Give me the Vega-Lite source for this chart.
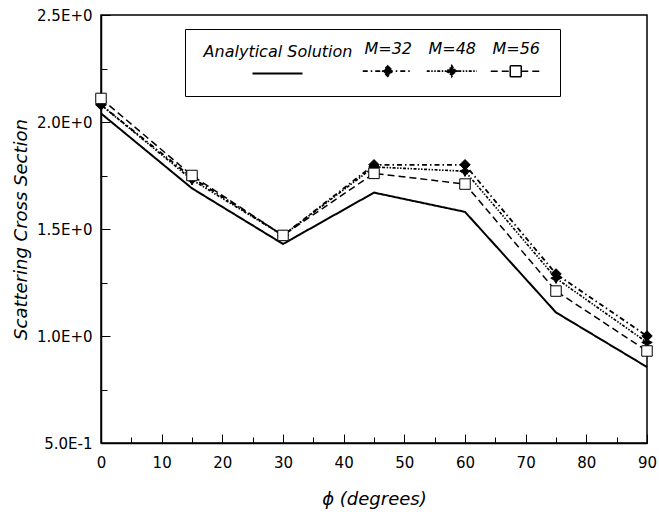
{
  "$schema": "https://vega.github.io/schema/vega-lite/v6.json",
  "width": 546,
  "height": 428,
  "autosize": {"type": "none"},
  "padding": {"left": 101, "top": 15, "right": 12, "bottom": 69},
  "background": "white",
  "data": {
    "values": [
      {"phi": 0, "value": 2.04, "series": "Analytical Solution"},
      {"phi": 15, "value": 1.69, "series": "Analytical Solution"},
      {"phi": 30, "value": 1.43, "series": "Analytical Solution"},
      {"phi": 45, "value": 1.67, "series": "Analytical Solution"},
      {"phi": 60, "value": 1.58, "series": "Analytical Solution"},
      {"phi": 75, "value": 1.11, "series": "Analytical Solution"},
      {"phi": 90, "value": 0.855, "series": "Analytical Solution"},
      {"phi": 0, "value": 2.08, "series": "M=32"},
      {"phi": 15, "value": 1.74, "series": "M=32"},
      {"phi": 30, "value": 1.47, "series": "M=32"},
      {"phi": 45, "value": 1.80, "series": "M=32"},
      {"phi": 60, "value": 1.80, "series": "M=32"},
      {"phi": 75, "value": 1.29, "series": "M=32"},
      {"phi": 90, "value": 1.00, "series": "M=32"},
      {"phi": 0, "value": 2.08, "series": "M=48"},
      {"phi": 15, "value": 1.73, "series": "M=48"},
      {"phi": 30, "value": 1.47, "series": "M=48"},
      {"phi": 45, "value": 1.79, "series": "M=48"},
      {"phi": 60, "value": 1.77, "series": "M=48"},
      {"phi": 75, "value": 1.27, "series": "M=48"},
      {"phi": 90, "value": 0.97, "series": "M=48"},
      {"phi": 0, "value": 2.11, "series": "M=56"},
      {"phi": 15, "value": 1.75, "series": "M=56"},
      {"phi": 30, "value": 1.47, "series": "M=56"},
      {"phi": 45, "value": 1.76, "series": "M=56"},
      {"phi": 60, "value": 1.71, "series": "M=56"},
      {"phi": 75, "value": 1.21, "series": "M=56"},
      {"phi": 90, "value": 0.93, "series": "M=56"}
    ]
  },
  "config": {
    "view": {"stroke": "black", "strokeWidth": 1.5},
    "font": "DejaVu Sans",
    "axis": {
      "grid": false,
      "domainColor": "black",
      "domainWidth": 1.5,
      "tickColor": "black",
      "tickWidth": 1,
      "labelColor": "black",
      "labelFont": "DejaVu Sans",
      "labelFontSize": 15,
      "titleColor": "black",
      "titleFont": "DejaVu Sans",
      "titleFontSize": 18,
      "titleFontStyle": "italic",
      "titleFontWeight": "normal"
    }
  },
  "resolve": {"axis": {"x": "independent", "y": "independent"}},
  "layer": [
    {
      "mark": {"type": "line", "color": "black"},
      "encoding": {
        "x": {
          "field": "phi",
          "type": "quantitative",
          "scale": {"domain": [0, 90], "nice": false},
          "axis": {
            "orient": "bottom",
            "title": null,
            "labels": false,
            "domain": false,
            "values": [5, 15, 25, 35, 45, 55, 65, 75, 85],
            "tickSize": -6
          }
        },
        "y": {
          "field": "value",
          "type": "quantitative",
          "scale": {"domain": [0.5, 2.5], "nice": false, "zero": false},
          "axis": {
            "orient": "left",
            "title": null,
            "labels": false,
            "domain": false,
            "values": [0.75, 1.25, 1.75, 2.25],
            "tickSize": -6
          }
        },
        "strokeDash": {
          "field": "series",
          "type": "nominal",
          "scale": {
            "domain": ["Analytical Solution", "M=32", "M=48", "M=56"],
            "range": [[1, 0], [5, 3, 1.5, 3], [3, 1.5, 1.5, 1.5, 1.5, 1.5], [7, 4]]
          },
          "legend": {
            "title": null,
            "orient": "none",
            "legendX": 84,
            "legendY": 14,
            "direction": "horizontal",
            "columns": 4,
            "columnPadding": 6,
            "padding": 16,
            "strokeColor": "black",
            "fillColor": "white",
            "symbolSize": 2500,
            "symbolStrokeWidth": 1.5,
            "symbolStrokeColor": "black",
            "labelFont": "DejaVu Sans",
            "labelFontStyle": "italic",
            "labelFontSize": 16,
            "labelColor": "black",
            "labelAlign": "center",
            "labelOffset": -25.75,
            "labelLimit": 300,
            "encode": {
              "symbols": {
                "update": {
                  "shape": {"signal": "datum.value == 'M=32' ? 'M-1,0H1M0,-0.2L0.2,0L0,0.2L-0.2,0Z' : datum.value == 'M=48' ? 'M-1,0H1M0,-0.22L0.08,-0.08L0.22,0L0.08,0.08L0,0.22L-0.08,0.08L-0.22,0L-0.08,-0.08Z' : datum.value == 'M=56' ? 'M-1,0H-0.22M0.22,0H1M-0.22,-0.22H0M0,-0.22H0.22M0.22,-0.22V0M0.22,0V0.22M0.22,0.22H0M0,0.22H-0.22M-0.22,0.22V0M-0.22,0V-0.22' : 'M-1,0H1'"},
                  "fill": {"signal": "datum.value == 'M=56' ? 'transparent' : 'black'"},
                  "stroke": {"value": "black"},
                  "strokeWidth": {"signal": "datum.value == 'Analytical Solution' ? 2 : 1.5"},
                  "x": {"signal": "datum.value == 'Analytical Solution' ? 76.5 : 25.75"}
                }
              },
              "labels": {
                "update": {
                  "dy": {"value": -22},
                  "dx": {"signal": "datum.value == 'Analytical Solution' ? 50.75 : 0"}
                }
              }
            }
          }
        },
        "strokeWidth": {
          "field": "series",
          "type": "nominal",
          "scale": {
            "domain": ["Analytical Solution", "M=32", "M=48", "M=56"],
            "range": [2, 1.5, 1.5, 1.5]
          },
          "legend": null
        }
      }
    },
    {
      "transform": [{"filter": "datum.series != 'Analytical Solution'"}],
      "mark": {"type": "point", "filled": true, "stroke": "black", "strokeWidth": 1, "opacity": 1, "size": 110},
      "encoding": {
        "x": {
          "field": "phi",
          "type": "quantitative",
          "axis": {
            "orient": "bottom",
            "title": "ϕ (degrees)",
            "values": [0, 10, 20, 30, 40, 50, 60, 70, 80, 90],
            "labelFlush": false,
            "labelOverlap": false,
            "tickSize": -9,
            "labelPadding": 21,
            "titlePadding": 20
          }
        },
        "y": {
          "field": "value",
          "type": "quantitative",
          "axis": {
            "orient": "left",
            "title": "Scattering Cross Section",
            "values": [0.5, 1, 1.5, 2, 2.5],
            "labelExpr": "datum.value >= 1 ? format(datum.value, '.1f') + 'E+0' : format(datum.value * 10, '.1f') + 'E-1'",
            "labelFlush": false,
            "labelOverlap": false,
            "tickSize": -9,
            "labelPadding": 18,
            "titlePadding": 6
          }
        },
        "shape": {
          "field": "series",
          "type": "nominal",
          "scale": {
            "domain": ["M=32", "M=48", "M=56"],
            "range": ["diamond", "M0,-1L0.35,-0.35L1,0L0.35,0.35L0,1L-0.35,0.35L-1,0L-0.35,-0.35Z", "square"]
          },
          "legend": null
        },
        "fill": {
          "field": "series",
          "type": "nominal",
          "scale": {"domain": ["M=32", "M=48", "M=56"], "range": ["black", "black", "white"]},
          "legend": null
        }
      }
    }
  ]
}
